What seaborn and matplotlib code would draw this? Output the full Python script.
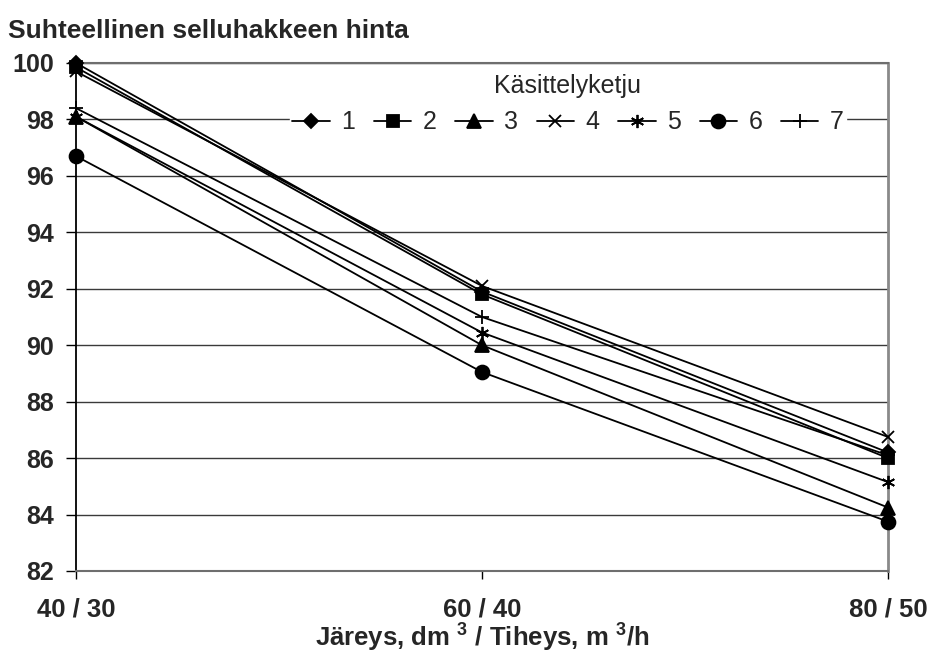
import numpy as np
import pandas as pd
import matplotlib
matplotlib.use("Agg")
import matplotlib.pyplot as plt
import seaborn as sns

# Data
x_labels = ["40 / 30", "60 / 40", "80 / 50"]
series_names = ["1", "2", "3", "4", "5", "6", "7"]
s1 = [100.0, 91.9, 86.2]
s2 = [99.85, 91.8, 86.0]
s3 = [98.1, 90.0, 84.25]
s4 = [99.7, 92.1, 86.75]
s5 = [98.1, 90.45, 85.15]
s6 = [96.7, 89.05, 83.75]
s7 = [98.4, 91.0, 86.1]
y_ticks = [82, 84, 86, 88, 90, 92, 94, 96, 98, 100]

all_series = [s1, s2, s3, s4, s5, s6, s7]
rows = []
for name, vals in zip(series_names, all_series):
    for i, v in enumerate(vals):
        rows.append({"x": i, "y": v, "Käsittelyketju": name})
df = pd.DataFrame(rows)

sns.set_theme(style="white")
plt.rcParams["font.family"] = ["Liberation Sans", "DejaVu Sans"]
plt.rcParams["mathtext.fontset"] = "custom"
plt.rcParams["mathtext.rm"] = "Liberation Sans:bold"
plt.rcParams["mathtext.bf"] = "Liberation Sans:bold"
plt.rcParams["mathtext.it"] = "Liberation Sans:bold"

fig = plt.figure(figsize=(9.31, 6.55), dpi=100)
W, H = 931, 655
ax = fig.add_axes([76 / W, 1 - 571 / H, (888 - 76) / W, (571 - 63) / H])

markers = {"1": "D", "2": "s", "3": "^", "4": "x", "5": (6, 2, 0), "6": "o", "7": "+"}
msizes = {"1": 7.5, "2": 8.5, "3": 9.5, "4": 8.5, "5": 9.5, "6": 10, "7": 10.5}

for name in series_names:
    sub = df[df["Käsittelyketju"] == name]
    sns.lineplot(data=sub, x="x", y="y", ax=ax, color="black", label=name,
                 marker=markers[name], markersize=msizes[name],
                 markeredgecolor="black", markerfacecolor="black",
                 markeredgewidth=1.3, linewidth=1.3, clip_on=False, zorder=5)

ax.set_xlim(0, 2)
ax.set_ylim(82, 100)
ax.set_yticks(y_ticks)
ax.set_yticklabels([str(t) for t in y_ticks], fontsize=18, fontweight="bold")
ax.set_xticks([0, 1, 2])
ax.set_xticklabels(x_labels, fontsize=18.5, fontweight="bold")
ax.tick_params(axis="y", direction="out", length=7, width=1, color="black", pad=9, left=True)
ax.tick_params(axis="x", direction="out", length=6, width=1, color="black", pad=13, bottom=True)

for y in y_ticks[1:]:
    ax.axhline(y, color="#3a3a3a", linewidth=1.0, zorder=0)

ax.spines["left"].set_color("black")
ax.spines["left"].set_linewidth(1.3)
ax.spines["bottom"].set_color("#6e6e6e")
ax.spines["bottom"].set_linewidth(1.5)
ax.spines["top"].set_color("#6e6e6e")
ax.spines["top"].set_linewidth(1.5)
ax.spines["right"].set_color("#8a8a8a")
ax.spines["right"].set_linewidth(2)

ax.set_xlabel("Järeys, dm $^{3}$ / Tiheys, m $^{3}$/h", fontsize=18.5,
              fontweight="bold", labelpad=0)
ax.set_ylabel("")

fig.text(8 / W, 1 - 31 / H, "Suhteellinen selluhakkeen hinta", fontsize=19,
         fontweight="bold", ha="left", va="center")

handles, labels = ax.get_legend_handles_labels()
leg = ax.legend(handles, labels, title="Käsittelyketju", ncol=7, loc="center",
                bbox_to_anchor=(568 / W, 1 - 104 / H), bbox_transform=fig.transFigure,
                frameon=True, fontsize=18, title_fontsize=18, handlelength=1.5,
                handletextpad=0.45, columnspacing=0.75, borderpad=0.1,
                borderaxespad=0, fancybox=False, framealpha=1)
leg.get_frame().set_edgecolor("white")
leg.get_frame().set_facecolor("white")
leg.set_zorder(6)

fig.savefig("out.png", dpi=100, facecolor="white")
